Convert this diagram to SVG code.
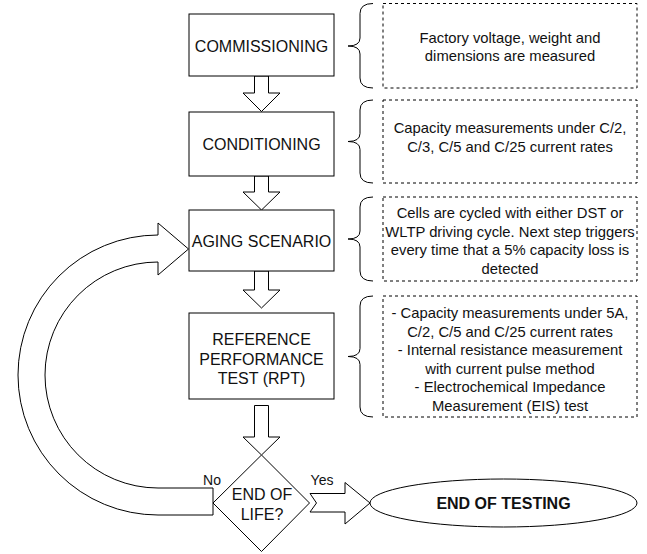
<svg xmlns="http://www.w3.org/2000/svg" width="647" height="554" viewBox="0 0 647 554">
<style>
.box{fill:#fff;stroke:#000;stroke-width:1}
.note{fill:#fff;stroke:#000;stroke-width:1;stroke-dasharray:3 3}
.brace{fill:none;stroke:#000;stroke-width:1}
.arr{fill:#fff;stroke:#000;stroke-width:1;stroke-linejoin:miter}
.lbl{font-family:"Liberation Sans",Arial,sans-serif;font-size:16px;fill:#111;text-anchor:middle;dominant-baseline:central}
.txt{font-family:"Liberation Sans",Arial,sans-serif;font-size:14.8px;fill:#111;text-anchor:middle;dominant-baseline:central}
.small{font-family:"Liberation Sans",Arial,sans-serif;font-size:14px;fill:#111;text-anchor:middle;dominant-baseline:central}
.bold{font-family:"Liberation Sans",Arial,sans-serif;font-size:16px;font-weight:bold;fill:#111;text-anchor:middle;dominant-baseline:central}
</style>
<rect width="647" height="554" fill="#fff"/>
<g id="connectors">
<path class="arr" d="M254.5,76 L268.5,76 L268.5,93 L280,93 L261.5,111.5 L243,93 L254.5,93 Z"/>
<path class="arr" d="M254.5,176 L268.5,176 L268.5,192 L280,192 L261.5,210 L243,192 L254.5,192 Z"/>
<path class="arr" d="M254.5,271 L268.5,271 L268.5,290 L280,290 L261.5,308 L243,290 L254.5,290 Z"/>
<path class="arr" d="M254.5,405.5 L268.5,405.5 L268.5,437 L280,437 L261.5,455 L243,437 L254.5,437 Z"/>
<path class="arr" d="M158,235 A140,140 0 0 0 158,515 L213,515 L213,488 L158,488 A113,113 0 0 1 158,262 L158,275 L188.5,249 L158,223 Z"/>
<path class="arr" d="M310,493.5 L345,493.5 L345,482.5 L370,503 L345,524 L345,512 L310,512 L316.5,503 Z"/>
<text class="small" x="212" y="480">No</text>
<text class="small" x="322" y="480">Yes</text>
</g>
<g id="commissioning">
<rect class="box" x="189" y="14" width="145" height="62"/>
<text class="lbl" x="261.5" y="46">COMMISSIONING</text>
</g>
<g id="conditioning">
<rect class="box" x="189" y="112" width="145" height="64"/>
<text class="lbl" x="261.5" y="144.5">CONDITIONING</text>
</g>
<g id="aging">
<rect class="box" x="189" y="210" width="145" height="61"/>
<text class="lbl" x="261.5" y="241">AGING SCENARIO</text>
</g>
<g id="rpt">
<rect class="box" x="189" y="313" width="145" height="86"/>
<text class="lbl" x="261.5" y="339.5">REFERENCE</text>
<text class="lbl" x="261.5" y="359">PERFORMANCE</text>
<text class="lbl" x="261.5" y="378.5">TEST (RPT)</text>
</g>
<g id="eol">
<path class="box" d="M261.5,455 L309.5,503 L261.5,551.5 L213,503 Z"/>
<text class="lbl" x="262" y="494">END OF</text>
<text class="lbl" x="262" y="514">LIFE?</text>
</g>
<g id="end">
<ellipse class="box" cx="503.5" cy="503" rx="133.5" ry="24"/>
<text class="bold" x="503.5" y="503.5">END OF TESTING</text>
</g>
<g id="note1">
<path class="brace" d="M373,3.5 Q360,3.5 360,13.5 L360,38 Q360,46 348,46 Q360,46 360,54 L360,78 Q360,88 373,88"/>
<rect class="note" x="383" y="3.5" width="254" height="84.5"/>
<text class="txt" x="510" y="37.5">Factory voltage, weight and</text>
<text class="txt" x="510" y="55.5">dimensions are measured</text>
</g>
<g id="note2">
<path class="brace" d="M373,100 Q360,100 360,110 L360,133.5 Q360,141.5 348,141.5 Q360,141.5 360,149.5 L360,173 Q360,183 373,183"/>
<rect class="note" x="383" y="100" width="254" height="83"/>
<text class="txt" x="510" y="128">Capacity measurements under C/2,</text>
<text class="txt" x="510" y="146.5">C/3, C/5 and C/25 current rates</text>
</g>
<g id="note3">
<path class="brace" d="M373,197 Q360,197 360,207 L360,231 Q360,239 348,239 Q360,239 360,247 L360,271 Q360,281 373,281"/>
<rect class="note" x="383" y="197" width="254" height="84"/>
<text class="txt" x="510" y="213">Cells are cycled with either DST or</text>
<text class="txt" x="510" y="231.5">WLTP driving cycle. Next step triggers</text>
<text class="txt" x="510" y="250">every time that a 5% capacity loss is</text>
<text class="txt" x="510" y="268.5">detected</text>
</g>
<g id="note4">
<path class="brace" d="M373,296 Q360,296 360,306 L360,348.5 Q360,356.5 348,356.5 Q360,356.5 360,364.5 L360,407 Q360,417 373,417"/>
<rect class="note" x="383" y="296" width="254" height="121"/>
<text class="txt" x="510" y="313">- Capacity measurements under 5A,</text>
<text class="txt" x="510" y="331.5">C/2, C/5 and C/25 current rates</text>
<text class="txt" x="510" y="350">- Internal resistance measurement</text>
<text class="txt" x="510" y="368.5">with current pulse method</text>
<text class="txt" x="510" y="387">- Electrochemical Impedance</text>
<text class="txt" x="510" y="405.5">Measurement (EIS) test</text>
</g>
</svg>
